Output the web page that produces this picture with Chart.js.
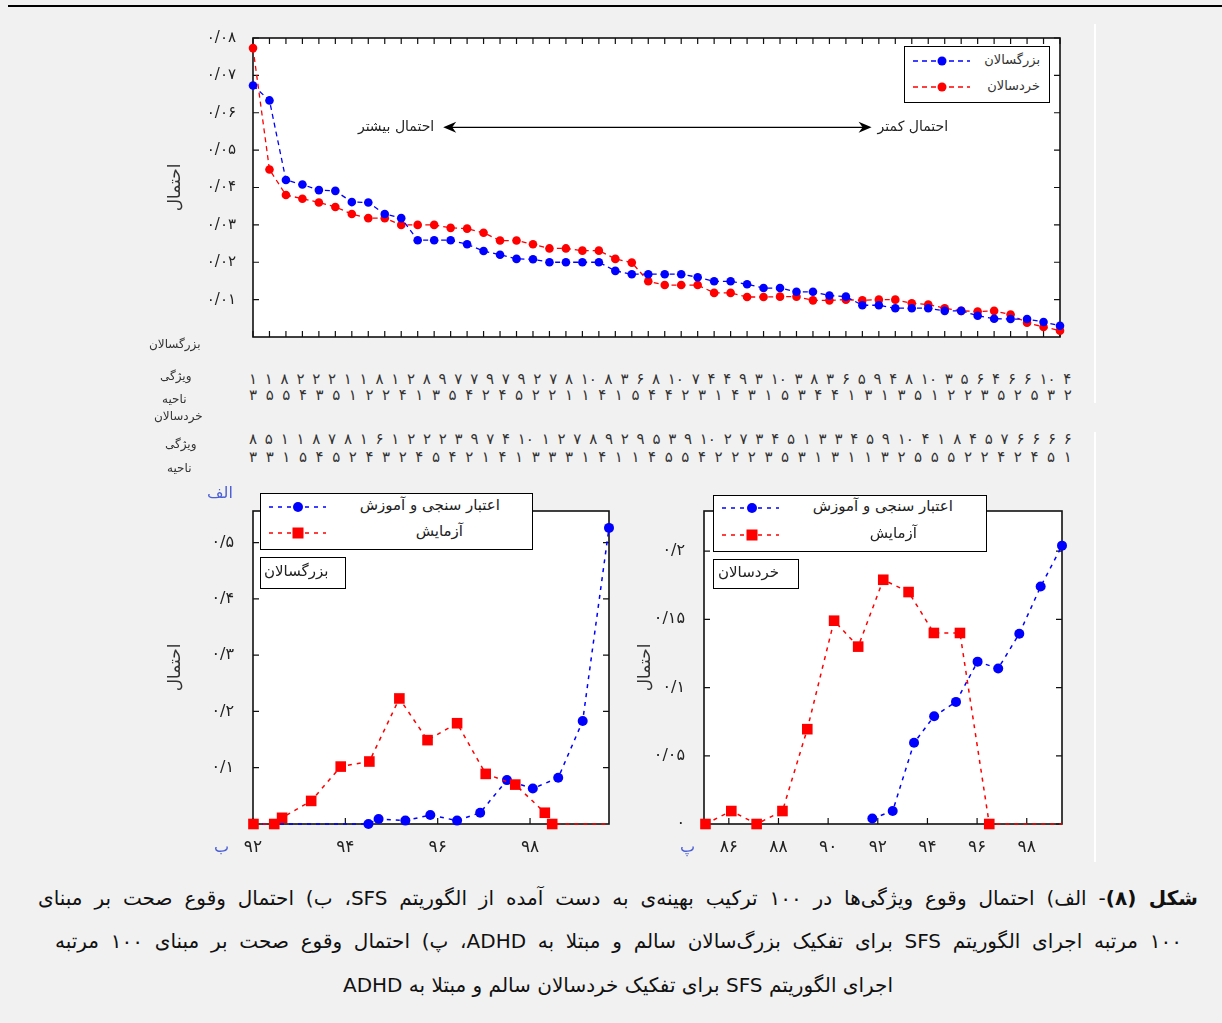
<!DOCTYPE html>
<html lang="fa">
<head>
<meta charset="utf-8">
<title>احتمال وقوع ویژگی‌ها</title>
<script src="https://cdn.jsdelivr.net/npm/chart.js@4.4.1/dist/chart.umd.min.js"></script>
<style>
  html, body { margin: 0; padding: 0; }
  body { width: 1222px; height: 1023px; background: #f1f1f1; position: relative; overflow: hidden;
         font-family: 'DejaVu Sans', sans-serif; color: #222; }
  .abs { position: absolute; white-space: nowrap; }
  canvas { position: absolute; }
  .lbl { font-size: 12px; direction: rtl; color: #333; }
  .row { display: flex; justify-content: space-between; left: 249px; width: 823px; font-size: 15px; direction: ltr; color: #333; }
  .box { background: #fff; border: 1.5px solid #000; box-sizing: border-box; }
  .tag { color: #4b5fd6; font-size: 16px; }
  .cap { font-size: 20px; direction: rtl; color: #111; }
</style>
</head>
<body>
<div class="abs" style="left:8px;top:5px;width:1214px;height:2px;background:#000"></div>
<div class="abs" style="left:1094px;top:24px;width:2px;height:379px;background:#fff"></div>
<div class="abs" style="left:1094px;top:432px;width:2px;height:430px;background:#fff"></div>

<canvas id="probChart" width="930" height="335" style="left:150px;top:20px"></canvas>
<canvas id="adultChart" width="470" height="380" style="left:150px;top:480px"></canvas>
<canvas id="childChart" width="460" height="380" style="left:620px;top:480px"></canvas>

<!-- legend of the feature chart -->
<div class="abs box" style="left:904px;top:46px;width:146px;height:57px"></div>
<svg class="abs" style="left:910px;top:53px" width="64" height="44">
  <line x1="3" y1="8" x2="60" y2="8" stroke="#00f" stroke-width="1.3" stroke-dasharray="5 4"/>
  <circle cx="32" cy="8" r="4.5" fill="#00f"/>
  <line x1="3" y1="34" x2="60" y2="34" stroke="#f00" stroke-width="1.3" stroke-dasharray="5 4"/>
  <circle cx="32" cy="34" r="4.5" fill="#f00"/>
</svg>
<div class="abs lbl" style="right:182px;top:52px;font-size:13px">بزرگسالان</div>
<div class="abs lbl" style="right:182px;top:78px;font-size:13px">خردسالان</div>

<!-- row labels under the feature chart -->
<div class="abs lbl" style="left:149px;top:337px">بزرگسالان</div>
<div class="abs lbl" style="left:160px;top:369px">ویژگی</div>
<div class="abs lbl" style="left:162px;top:392px">ناحیه</div>
<div class="abs lbl" style="left:154px;top:409px">خردسالان</div>
<div class="abs lbl" style="left:165px;top:437px">ویژگی</div>
<div class="abs lbl" style="left:167px;top:461px">ناحیه</div>
<div class="abs row" id="adultFeatureRow" style="top:370px"></div>
<div class="abs row" id="adultRegionRow" style="top:386px"></div>
<div class="abs row" id="childFeatureRow" style="top:430px"></div>
<div class="abs row" id="childRegionRow" style="top:448px"></div>

<!-- legends of the accuracy charts -->
<div class="abs box" style="left:260px;top:493px;width:273px;height:57px"></div>
<svg class="abs" style="left:266px;top:498px" width="64" height="46">
  <line x1="3" y1="9" x2="60" y2="9" stroke="#00f" stroke-width="1.5" stroke-dasharray="4 5"/>
  <circle cx="32" cy="9" r="5" fill="#00f"/>
  <line x1="3" y1="35" x2="60" y2="35" stroke="#f00" stroke-width="1.5" stroke-dasharray="4 5"/>
  <rect x="26.5" y="29.5" width="11" height="11" fill="#f00"/>
</svg>
<div class="abs lbl" style="right:722px;top:496px;font-size:15px;color:#222">اعتبار سنجی و آموزش</div>
<div class="abs lbl" style="right:759px;top:522px;font-size:15px;color:#222">آزمایش</div>
<div class="abs box" style="left:260px;top:557px;width:86px;height:32px"></div>
<div class="abs lbl" style="left:264px;top:562px;font-size:15px;color:#222">بزرگسالان</div>

<div class="abs box" style="left:713px;top:495px;width:274px;height:57px"></div>
<svg class="abs" style="left:719px;top:499px" width="64" height="46">
  <line x1="3" y1="9" x2="60" y2="9" stroke="#00f" stroke-width="1.5" stroke-dasharray="4 5"/>
  <circle cx="33" cy="9" r="5" fill="#00f"/>
  <line x1="3" y1="36" x2="60" y2="36" stroke="#f00" stroke-width="1.5" stroke-dasharray="4 5"/>
  <rect x="27.5" y="30.5" width="11" height="11" fill="#f00"/>
</svg>
<div class="abs lbl" style="right:269px;top:497px;font-size:15px;color:#222">اعتبار سنجی و آموزش</div>
<div class="abs lbl" style="right:305px;top:524px;font-size:15px;color:#222">آزمایش</div>
<div class="abs box" style="left:713px;top:559px;width:86px;height:30px"></div>
<div class="abs lbl" style="left:718px;top:563px;font-size:15px;color:#222">خردسالان</div>

<div class="abs tag" style="left:207px;top:483px">الف</div>
<div class="abs tag" style="left:214px;top:837px">ب</div>
<div class="abs tag" style="left:680px;top:837px">پ</div>

<!-- caption -->
<div class="abs cap" style="left:38px;top:886px;width:1160px;text-align:justify;text-align-last:justify"><b>شکل (۸)</b>- الف) احتمال  وقوع ویژگی‌ها در ۱۰۰  ترکیب بهینه‌ی به دست آمده از الگوریتم SFS، ب) احتمال وقوع صحت بر مبنای</div>
<div class="abs cap" style="left:55px;top:929px;width:1127px;text-align:justify;text-align-last:justify">۱۰۰ مرتبه اجرای الگوریتم SFS برای تفکیک بزرگ‌سالان سالم و مبتلا به ADHD، پ) احتمال وقوع صحت بر مبنای ۱۰۰ مرتبه</div>
<div class="abs cap" style="left:0;top:973px;width:1236px;text-align:center">اجرای الگوریتم SFS برای تفکیک خردسالان سالم و مبتلا به ADHD</div>

<script>
// --- top chart: probability of each feature over the 100 optimal sets ---
const ranks = Array.from({ length: 50 }, (_, i) => i + 1);
const adultsProb = [0.0673, 0.0633, 0.0420, 0.0408, 0.0393, 0.0391, 0.0361, 0.0360, 0.0329, 0.0318,
  0.0259, 0.0259, 0.0259, 0.0248, 0.0230, 0.0220, 0.0209, 0.0208, 0.0200, 0.0200,
  0.0200, 0.0200, 0.0177, 0.0168, 0.0168, 0.0168, 0.0168, 0.0160, 0.0149, 0.0149,
  0.0141, 0.0131, 0.0131, 0.0121, 0.0121, 0.0111, 0.0108, 0.0085, 0.0085, 0.0077,
  0.0077, 0.0077, 0.0070, 0.0070, 0.0057, 0.0049, 0.0048, 0.0048, 0.0040, 0.0030];
const childrenProb = [0.0773, 0.0448, 0.0380, 0.0370, 0.0360, 0.0348, 0.0329, 0.0318, 0.0318, 0.0300,
  0.0300, 0.0300, 0.0292, 0.0290, 0.0279, 0.0258, 0.0258, 0.0248, 0.0237, 0.0237,
  0.0231, 0.0231, 0.0209, 0.0199, 0.0149, 0.0139, 0.0139, 0.0139, 0.0118, 0.0118,
  0.0107, 0.0107, 0.0108, 0.0108, 0.0098, 0.0098, 0.0100, 0.0098, 0.0100, 0.0100,
  0.0090, 0.0087, 0.0077, 0.0070, 0.0068, 0.0070, 0.0060, 0.0038, 0.0027, 0.0017];
const topYTicks = [0.01, 0.02, 0.03, 0.04, 0.05, 0.06, 0.07, 0.08];
const topYLabels = ['۰/۰۱', '۰/۰۲', '۰/۰۳', '۰/۰۴', '۰/۰۵', '۰/۰۶', '۰/۰۷', '۰/۰۸'];

// feature / region numbers printed under the top chart
const adultFeatureRow = ['۱','۱','۸','۲','۲','۲','۱','۱','۸','۱','۲','۸','۹','۷','۷','۹','۷','۹','۲','۷','۸','۱۰','۸','۳','۶','۸','۱۰','۷','۴','۴','۹','۳','۱۰','۳','۸','۳','۶','۵','۹','۴','۸','۱۰','۳','۵','۶','۴','۶','۶','۱۰','۴'];
const adultRegionRow = ['۳','۵','۵','۴','۳','۵','۱','۲','۲','۴','۱','۳','۵','۴','۲','۴','۵','۲','۲','۱','۱','۴','۱','۵','۴','۴','۲','۳','۱','۴','۳','۱','۵','۳','۴','۴','۱','۳','۱','۳','۵','۱','۲','۲','۳','۵','۲','۵','۳','۲'];
const childFeatureRow = ['۸','۵','۱','۱','۸','۷','۸','۱','۶','۱','۲','۲','۲','۳','۹','۷','۴','۱۰','۱','۲','۷','۸','۹','۲','۹','۵','۳','۹','۱۰','۲','۷','۳','۴','۵','۱','۳','۳','۴','۵','۹','۱۰','۴','۱','۸','۴','۵','۷','۶','۶','۶','۶'];
const childRegionRow = ['۳','۳','۱','۵','۴','۵','۲','۴','۳','۲','۴','۵','۴','۲','۱','۴','۱','۳','۳','۳','۱','۴','۱','۱','۴','۵','۵','۴','۲','۲','۲','۳','۵','۳','۱','۳','۱','۱','۳','۲','۵','۵','۵','۲','۲','۴','۲','۴','۵','۱'];

// --- bottom left: adults, accuracy distribution ---
const adultValX = [92.0, 94.5, 94.72, 95.3, 95.84, 96.42, 96.92, 97.5, 98.06, 98.61, 99.14, 99.71];
const adultValY = [0, 0, 0.009, 0.006, 0.016, 0.006, 0.020, 0.078, 0.063, 0.082, 0.183, 0.526];
const adultTestX = [92.01, 92.46, 92.63, 93.26, 93.9, 94.52, 95.17, 95.78, 96.42, 97.04, 97.68, 98.32, 98.48, 99.71];
const adultTestY = [0, 0, 0.011, 0.041, 0.102, 0.111, 0.223, 0.149, 0.179, 0.089, 0.070, 0.020, 0, 0];
const adultXTicks = [92, 94, 96, 98];
const adultXLabels = ['۹۲', '۹۴', '۹۶', '۹۸'];
const adultYTicks = [0.1, 0.2, 0.3, 0.4, 0.5];
const adultYLabels = ['۰/۱', '۰/۲', '۰/۳', '۰/۴', '۰/۵'];

// --- bottom right: children, accuracy distribution ---
const childValX = [91.78, 92.6, 93.46, 94.27, 95.15, 96.02, 96.85, 97.7, 98.56, 99.42];
const childValY = [0.004, 0.0095, 0.0595, 0.079, 0.0895, 0.119, 0.114, 0.1395, 0.174, 0.204];
const childTestX = [85.06, 86.1, 87.12, 88.16, 89.16, 90.24, 91.21, 92.22, 93.24, 94.26, 95.31, 96.49, 99.42];
const childTestY = [0, 0.0095, 0, 0.0095, 0.0695, 0.149, 0.130, 0.179, 0.170, 0.140, 0.140, 0, 0];
const childXTicks = [86, 88, 90, 92, 94, 96, 98];
const childXLabels = ['۸۶', '۸۸', '۹۰', '۹۲', '۹۴', '۹۶', '۹۸'];
const childYTicks = [0, 0.05, 0.1, 0.15, 0.2];
const childYLabels = ['۰', '۰/۰۵', '۰/۱', '۰/۱۵', '۰/۲'];

const BLUE = '#0000ff';
const RED = '#ff0000';
const FONT = 'DejaVu Sans';

function fillRow(id, items) {
  const el = document.getElementById(id);
  items.forEach(t => {
    const s = document.createElement('span');
    s.textContent = t;
    el.appendChild(s);
  });
}
fillRow('adultFeatureRow', adultFeatureRow);
fillRow('adultRegionRow', adultRegionRow);
fillRow('childFeatureRow', childFeatureRow);
fillRow('childRegionRow', childRegionRow);

// white plot area, box and inward tick marks (matlab look)
const framePlugin = {
  id: 'frame',
  beforeDraw(chart) {
    const { ctx, chartArea: a } = chart;
    ctx.save();
    ctx.fillStyle = '#fff';
    ctx.fillRect(a.left, a.top, a.width, a.height);
    ctx.restore();
  },
  beforeDatasetsDraw(chart, args, opts) {
    const { ctx, chartArea: a, scales } = chart;
    const len = opts.tickLength || 5;
    ctx.save();
    ctx.strokeStyle = '#111';
    ctx.lineWidth = 1.2;
    ctx.beginPath();
    scales.x.ticks.forEach((t, i) => {
      const px = scales.x.getPixelForTick(i);
      ctx.moveTo(px, a.bottom);
      ctx.lineTo(px, a.bottom - len);
      if (opts.xTop) {
        ctx.moveTo(px, a.top);
        ctx.lineTo(px, a.top + len);
      }
    });
    scales.y.ticks.forEach((t, i) => {
      const py = scales.y.getPixelForTick(i);
      ctx.moveTo(a.left, py);
      ctx.lineTo(a.left + len, py);
      ctx.moveTo(a.right, py);
      ctx.lineTo(a.right - len, py);
    });
    ctx.stroke();
    ctx.lineWidth = 1.6;
    ctx.strokeRect(a.left, a.top, a.width, a.height);
    ctx.restore();
  }
};

// double arrow with "more / less probable" notes
const arrowPlugin = {
  id: 'arrowNote',
  afterDatasetsDraw(chart, args, opts) {
    const { ctx, scales: { x, y } } = chart;
    const x1 = x.getPixelForValue(opts.from);
    const x2 = x.getPixelForValue(opts.to);
    const py = y.getPixelForValue(opts.at);
    ctx.save();
    ctx.strokeStyle = '#000';
    ctx.fillStyle = '#000';
    ctx.lineWidth = 1.3;
    ctx.beginPath();
    ctx.moveTo(x1 + 6, py);
    ctx.lineTo(x2 - 6, py);
    ctx.stroke();
    [[x1, 1], [x2, -1]].forEach(([tip, d]) => {
      ctx.beginPath();
      ctx.moveTo(tip, py);
      ctx.lineTo(tip + d * 13, py - 5.5);
      ctx.lineTo(tip + d * 9, py);
      ctx.lineTo(tip + d * 13, py + 5.5);
      ctx.closePath();
      ctx.fill();
    });
    ctx.font = '14px ' + FONT;
    ctx.fillStyle = '#222';
    ctx.textBaseline = 'middle';
    ctx.textAlign = 'right';
    ctx.fillText(opts.leftText, x1 - 9, py);
    ctx.textAlign = 'left';
    ctx.fillText(opts.rightText, x2 + 6, py);
    ctx.restore();
  }
};

function fixedTicks(values) {
  return scale => { scale.ticks = values.map(v => ({ value: v })); };
}

new Chart(document.getElementById('probChart'), {
  type: 'line',
  data: {
    labels: ranks,
    datasets: [
      { label: 'بزرگسالان', data: adultsProb, borderColor: BLUE, backgroundColor: BLUE,
        borderWidth: 1.3, borderDash: [5, 4], pointRadius: 4.3, pointBorderWidth: 0, clip: false },
      { label: 'خردسالان', data: childrenProb, borderColor: RED, backgroundColor: RED,
        borderWidth: 1.3, borderDash: [5, 4], pointRadius: 4.3, pointBorderWidth: 0, clip: false }
    ]
  },
  options: {
    responsive: false,
    animation: false,
    layout: { padding: { top: 13, right: 20, bottom: 10, left: 0 } },
    scales: {
      x: {
        offset: false,
        grid: { display: false },
        border: { display: false },
        ticks: { display: false, autoSkip: false },
        afterFit: s => { s.height = 0; }
      },
      y: {
        min: 0, max: 0.08,
        grid: { display: false },
        border: { display: false },
        afterBuildTicks: fixedTicks(topYTicks),
        afterFit: s => { s.width = 103; },
        ticks: { padding: 9, color: '#222', font: { family: FONT, size: 15 },
                 callback: (v, i) => topYLabels[i] },
        title: { display: true, text: 'احتمال', color: '#333', padding: { top: 15 },
                 font: { family: FONT, size: 17 } }
      }
    },
    plugins: {
      legend: { display: false },
      tooltip: { enabled: false },
      frame: { xTop: true, tickLength: 6 },
      arrowNote: { from: 11.55, to: 37.56, at: 0.0561, leftText: 'احتمال بیشتر', rightText: 'احتمال کمتر' }
    }
  },
  plugins: [framePlugin, arrowPlugin]
});

function accuracyChart(id, cfg) {
  const toPoints = (xs, ys) => xs.map((x, i) => ({ x, y: ys[i] }));
  return new Chart(document.getElementById(id), {
    type: 'line',
    data: {
      datasets: [
        { label: 'آزمایش', data: toPoints(cfg.testX, cfg.testY), borderColor: RED, backgroundColor: RED,
          borderWidth: 1.5, borderDash: [4, 5], pointStyle: 'rect', pointBorderWidth: 0, clip: false,
          pointRadius: c => (c.dataIndex === cfg.testX.length - 1 ? 0 : 7.5) },
        { label: 'اعتبار سنجی و آموزش', data: toPoints(cfg.valX, cfg.valY), borderColor: BLUE, backgroundColor: BLUE,
          borderWidth: 1.5, borderDash: [4, 5], pointStyle: 'circle', pointBorderWidth: 0, clip: false,
          pointRadius: c => (cfg.hideFirstVal && c.dataIndex === 0 ? 0 : 5) }
      ]
    },
    options: {
      responsive: false,
      animation: false,
      layout: { padding: { top: 31, right: cfg.padRight, bottom: 0, left: 0 } },
      scales: {
        x: {
          type: 'linear', min: cfg.xMin, max: cfg.xMax,
          grid: { display: false },
          border: { display: false },
          afterBuildTicks: fixedTicks(cfg.xTicks),
          afterFit: s => { s.height = 36; },
          ticks: { padding: 5, color: '#222', font: { family: FONT, size: 17 },
                   callback: (v, i) => cfg.xLabels[i] }
        },
        y: {
          min: 0, max: cfg.yMax,
          grid: { display: false },
          border: { display: false },
          afterBuildTicks: fixedTicks(cfg.yTicks),
          afterFit: s => { s.width = cfg.yWidth; },
          ticks: { padding: 11, color: '#222', font: { family: FONT, size: 16 },
                   callback: (v, i) => cfg.yLabels[i] },
          title: { display: true, text: 'احتمال', color: '#333', padding: { top: 15 },
                   font: { family: FONT, size: 17 } }
        }
      },
      plugins: {
        legend: { display: false },
        tooltip: { enabled: false },
        frame: { xTop: false, tickLength: 6 }
      }
    },
    plugins: [framePlugin]
  });
}

accuracyChart('adultChart', {
  valX: adultValX, valY: adultValY, testX: adultTestX, testY: adultTestY, hideFirstVal: true,
  xMin: 92, xMax: 99.71, xTicks: adultXTicks, xLabels: adultXLabels,
  yMax: 0.556, yTicks: adultYTicks, yLabels: adultYLabels, yWidth: 103, padRight: 11
});

accuracyChart('childChart', {
  valX: childValX, valY: childValY, testX: childTestX, testY: childTestY, hideFirstVal: false,
  xMin: 85, xMax: 99.42, xTicks: childXTicks, xLabels: childXLabels,
  yMax: 0.2294, yTicks: childYTicks, yLabels: childYLabels, yWidth: 84, padRight: 18
});
</script>
</body>
</html>
